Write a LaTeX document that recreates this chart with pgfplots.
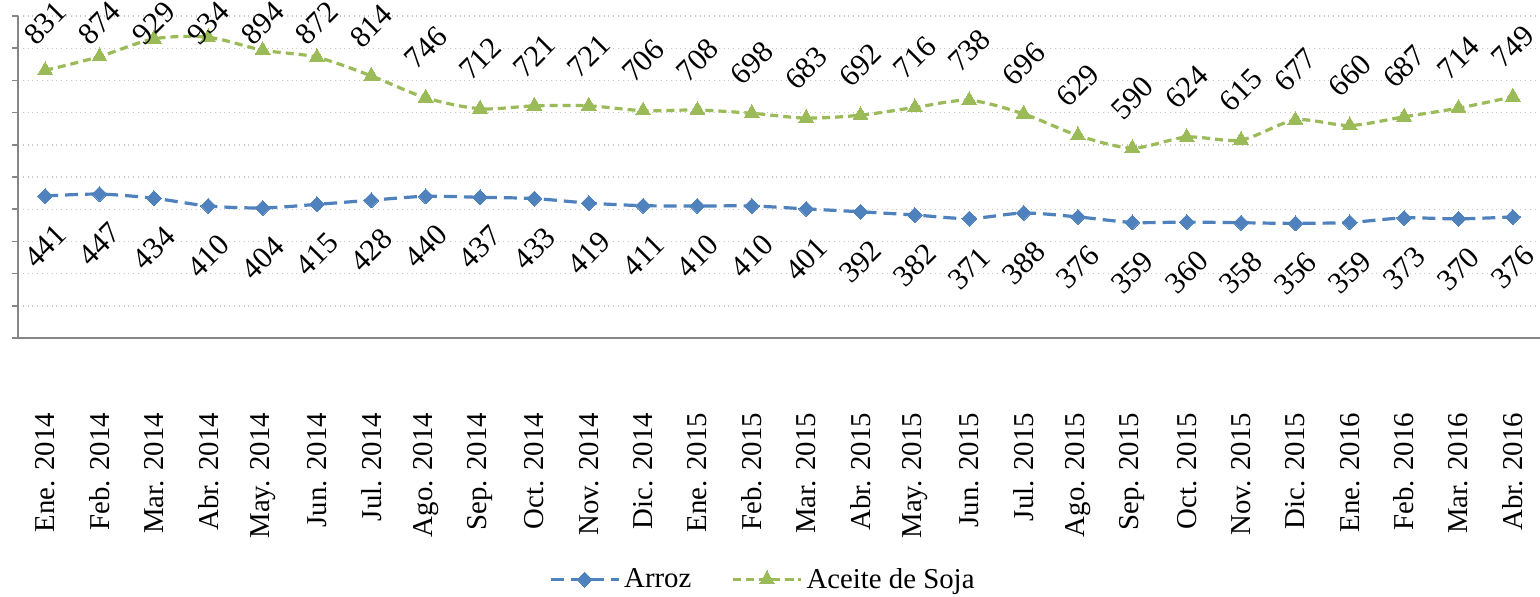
\documentclass[border=0pt]{standalone}
\usepackage{pgfplots}
\pgfplotsset{compat=1.18}
\usepackage{fontspec}
\setmainfont{Liberation Serif}

\definecolor{arroz}{HTML}{4F81BD}
\definecolor{soja}{HTML}{9BBB59}
\definecolor{axisgray}{HTML}{868686}

% precios: arroz y aceite de soja
\pgfplotstableread{
x arroz soja
0  441 831
1  447 874
2  434 929
3  410 934
4  404 894
5  415 872
6  428 814
7  440 746
8  437 712
9  433 721
10 419 721
11 411 706
12 410 708
13 410 698
14 401 683
15 392 692
16 382 716
17 371 738
18 388 696
19 376 629
20 359 590
21 360 624
22 358 615
23 356 677
24 359 660
25 373 687
26 370 714
27 376 749
}\datos

\begin{document}
\begin{tikzpicture}
\begin{axis}[
  scale only axis,
  width=761pt, height=161pt,
  xmin=-0.5, xmax=27.5,
  ymin=0, ymax=1000,
  ytick distance=100,
  yticklabels={},
  xtick=data,
  xticklabels={Ene. 2014, Feb. 2014, Mar. 2014, Abr. 2014, May. 2014, Jun. 2014,
    Jul. 2014, Ago. 2014, Sep. 2014, Oct. 2014, Nov. 2014, Dic. 2014,
    Ene. 2015, Feb. 2015, Mar. 2015, Abr. 2015, May. 2015, Jun. 2015,
    Jul. 2015, Ago. 2015, Sep. 2015, Oct. 2015, Nov. 2015, Dic. 2015,
    Ene. 2016, Feb. 2016, Mar. 2016, Abr. 2016},
  xticklabel style={rotate=90, anchor=east, font=\fontsize{14.4}{16}\selectfont},
  xticklabel shift=31pt,
  axis x line*=bottom, axis y line*=left,
  axis line style={axisgray, line width=0.8pt},
  tick align=outside,
  major tick length=3pt,
  xtick style={draw=none},
  ytick style={axisgray, line width=0.8pt},
  ymajorgrids,
  major grid style={gray!45, dotted, line width=0.7pt},
  clip=false,
  /pgf/number format/assume math mode=true,
  nodes near coords,
  legend columns=2,
  legend style={draw=none, at={(0.49,-0.75)}, anchor=center,
    font=\fontsize{14.4}{16}\selectfont,
    /tikz/every even column/.append style={column sep=18pt}},
  legend image code/.code={\draw[mark repeat=2, mark phase=2, #1]
    plot coordinates {(0pt,0pt) (17pt,0pt) (34pt,0pt)};},
]
\addplot[arroz, line width=1.6pt, dash pattern=on 6.5pt off 3.5pt, smooth,
  mark=square*, mark size=2.65pt,
  mark options={solid, rotate=45, fill=arroz, draw=arroz, line width=0pt},
  every node near coord/.append style={black, font=\fontsize{15.2}{17}\selectfont,
    yshift=-25pt, rotate=45, anchor=center}]
  table[x=x, y=arroz] {\datos};
\addlegendentry{Arroz}
\addplot[soja, line width=1.6pt, dash pattern=on 4pt off 2.5pt, smooth,
  mark=triangle*, mark size=4.3pt,
  mark options={solid, fill=soja, draw=soja, line width=0pt},
  visualization depends on={rawy \as \rawy},
  every node near coord/.append style={black, font=\fontsize{15.2}{17}\selectfont,
    yshift={min(25,(978-\rawy)*0.161)*1pt}, rotate=45, anchor=center}]
  table[x=x, y=soja] {\datos};
\addlegendentry{Aceite de Soja}
\end{axis}
\pgfresetboundingbox
\path[use as bounding box]
  ([shift={(-9pt,-129pt)}]current axis.south west) rectangle
  ([shift={(0pt,8pt)}]current axis.north east);
\end{tikzpicture}
\end{document}
